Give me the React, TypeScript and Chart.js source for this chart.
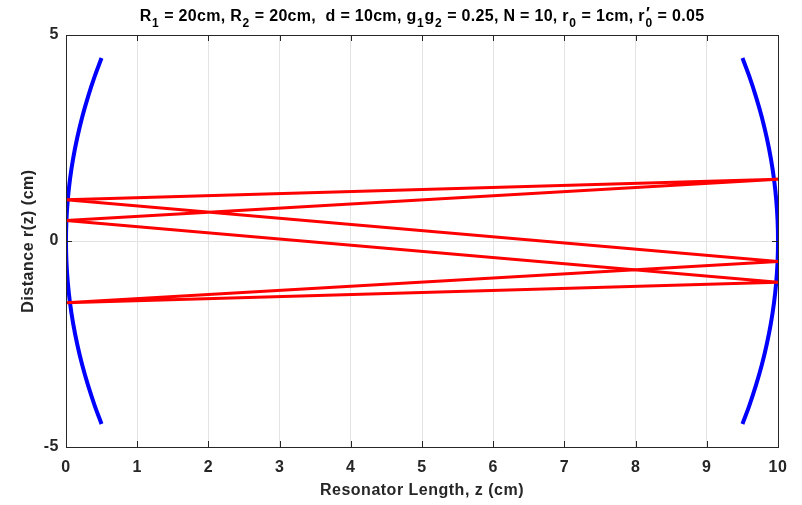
import { useEffect, useRef } from "react";
import { Chart, registerables } from "chart.js";

Chart.register(...registerables);

// Ray path (z in cm, r in cm)
const rayZ = [0, 10, 0, 10, 0, 10, 0];
const rayR = [1, 1.5, 0.5, -1, -1.5, -0.5, 1];

// Mirror profiles (r in cm -> z in cm)
const mirrorR = [-4.44, -4, -3.5, -3, -2.5, -2, -1.5, -1, -0.5, 0, 0.5, 1, 1.5, 2, 2.5, 3, 3.5, 4, 4.44];
const leftMirrorZ = [0.499, 0.404, 0.309, 0.226, 0.157, 0.1, 0.056, 0.025, 0.006, 0, 0.006, 0.025, 0.056, 0.1, 0.157, 0.226, 0.309, 0.404, 0.499];
const rightMirrorZ = [9.501, 9.596, 9.691, 9.774, 9.843, 9.9, 9.944, 9.975, 9.994, 10, 9.994, 9.975, 9.944, 9.9, 9.843, 9.774, 9.691, 9.596, 9.501];

const xTicks = [0, 1, 2, 3, 4, 5, 6, 7, 8, 9, 10];
const yTicks = [-5, 0, 5];

const FONT = '"Liberation Sans", Arial, Helvetica, sans-serif';
const TEXT = "#262626";

type Seg = { t: string; k?: "sub" | "primesub" };
const titleSegs: Seg[] = [
  { t: "R" }, { t: "1", k: "sub" }, { t: " = 20cm, R" }, { t: "2", k: "sub" },
  { t: " = 20cm,  d = 10cm, g" }, { t: "1", k: "sub" }, { t: "g" }, { t: "2", k: "sub" },
  { t: " = 0.25, N = 10, r" }, { t: "0", k: "sub" }, { t: " = 1cm, r" }, { t: "0", k: "primesub" },
  { t: " = 0.05" },
];

const spacingPlugin = {
  id: "spacing",
  beforeDraw(chart: any) {
    (chart.ctx as any).letterSpacing = "0.5px";
  },
};

const titlePlugin = {
  id: "mathTitle",
  afterDraw(chart: any) {
    const ctx = chart.ctx;
    const area = chart.chartArea;
    const main = `bold 16px ${FONT}`;
    const small = `bold 12px ${FONT}`;
    ctx.save();
    (ctx as any).letterSpacing = "0.3px";
    ctx.fillStyle = "#000";
    ctx.textBaseline = "alphabetic";
    ctx.textAlign = "left";
    const widthOf = (s: Seg) => {
      if (!s.k) { ctx.font = main; return ctx.measureText(s.t).width; }
      ctx.font = small;
      const w = ctx.measureText(s.t).width;
      if (s.k === "primesub") { ctx.font = main; return Math.max(w, ctx.measureText("\u2032").width) + 1; }
      return w + 1;
    };
    let total = 0;
    titleSegs.forEach((s) => (total += widthOf(s)));
    let x = (area.left + area.right) / 2 - total / 2;
    const base = 21;
    titleSegs.forEach((s) => {
      const w = widthOf(s);
      if (!s.k) {
        ctx.font = main;
        ctx.fillText(s.t, x, base);
      } else {
        ctx.font = small;
        ctx.fillText(s.t, x + 0.5, base + 6);
        if (s.k === "primesub") {
          ctx.font = main;
          ctx.fillText("\u2032", x + 1, base - 2);
        }
      }
      x += w;
    });
    ctx.restore();
  },
};

const framePlugin = {
  id: "frame",
  afterDatasetsDraw(chart: any) {
    const ctx = chart.ctx;
    const { left, right, top, bottom } = chart.chartArea;
    const xs = chart.scales.x;
    const ys = chart.scales.y;
    ctx.save();
    ctx.strokeStyle = TEXT;
    ctx.lineWidth = 1;
    ctx.beginPath();
    xTicks.forEach((v) => {
      const px = Math.round(xs.getPixelForValue(v)) + 0.5;
      ctx.moveTo(px, bottom); ctx.lineTo(px, bottom - 6);
      ctx.moveTo(px, top); ctx.lineTo(px, top + 6);
    });
    yTicks.forEach((v) => {
      const py = Math.round(ys.getPixelForValue(v)) + 0.5;
      ctx.moveTo(left, py); ctx.lineTo(left + 6, py);
      ctx.moveTo(right, py); ctx.lineTo(right - 6, py);
    });
    ctx.stroke();
    ctx.strokeRect(Math.round(left) + 0.5, Math.round(top) + 0.5, Math.round(right - left), Math.round(bottom - top));
    ctx.restore();
  },
};

export default function App() {
  const ref = useRef<HTMLCanvasElement | null>(null);
  useEffect(() => {
    if (!ref.current) return;
    const mk = (zs: number[], rs: number[]) => zs.map((z, i) => ({ x: z, y: rs[i] }));
    const chart = new Chart(ref.current, {
      type: "scatter",
      data: {
        datasets: [
          {
            data: mk(rayZ, rayR),
            showLine: true,
            borderColor: "#ff0000",
            borderWidth: 3,
            pointRadius: 0,
            tension: 0,
          },
          {
            data: mk(leftMirrorZ, mirrorR),
            showLine: true,
            borderColor: "#0000ff",
            borderWidth: 4,
            pointRadius: 0,
            tension: 0.4,
          },
          {
            data: mk(rightMirrorZ, mirrorR),
            showLine: true,
            borderColor: "#0000ff",
            borderWidth: 4,
            pointRadius: 0,
            tension: 0.4,
          },
        ],
      },
      options: {
        responsive: false,
        animation: false,
        layout: { padding: { top: 35, right: 24, left: 0, bottom: 0 } },
        plugins: { legend: { display: false }, tooltip: { enabled: false }, title: { display: false } },
        scales: {
          x: {
            type: "linear",
            min: 0,
            max: 10,
            afterFit: (s: any) => { s.height = 58; },
            afterBuildTicks: (s: any) => { s.ticks = xTicks.map((v) => ({ value: v })); },
            grid: { color: "#e3e3e3", drawTicks: false },
            border: { display: false },
            ticks: { color: TEXT, padding: 11, font: { family: FONT, size: 16, weight: "bold" }, maxRotation: 0 },
            title: {
              display: true,
              text: "Resonator Length, z (cm)",
              color: TEXT,
              font: { family: FONT, size: 16, weight: "bold" },
              padding: { top: 0, bottom: 5 },
            },
          },
          y: {
            type: "linear",
            min: -5,
            max: 5,
            afterFit: (s: any) => { s.width = 66; },
            afterBuildTicks: (s: any) => { s.ticks = yTicks.map((v) => ({ value: v })); },
            grid: { color: "#e3e3e3", drawTicks: false },
            border: { display: false },
            ticks: { color: TEXT, padding: 7, font: { family: FONT, size: 16, weight: "bold" } },
            title: {
              display: true,
              text: "Distance r(z) (cm)",
              color: TEXT,
              font: { family: FONT, size: 16, weight: "bold" },
              padding: { top: 19, bottom: 0 },
            },
          },
        },
      } as any,
      plugins: [spacingPlugin, framePlugin, titlePlugin],
    });
    return () => chart.destroy();
  }, []);
  return (
    <div style={{ position: "absolute", left: 0, top: 0, width: 802, height: 505, background: "#fff" }}>
      <canvas ref={ref} width={802} height={505} style={{ display: "block" }} />
    </div>
  );
}
